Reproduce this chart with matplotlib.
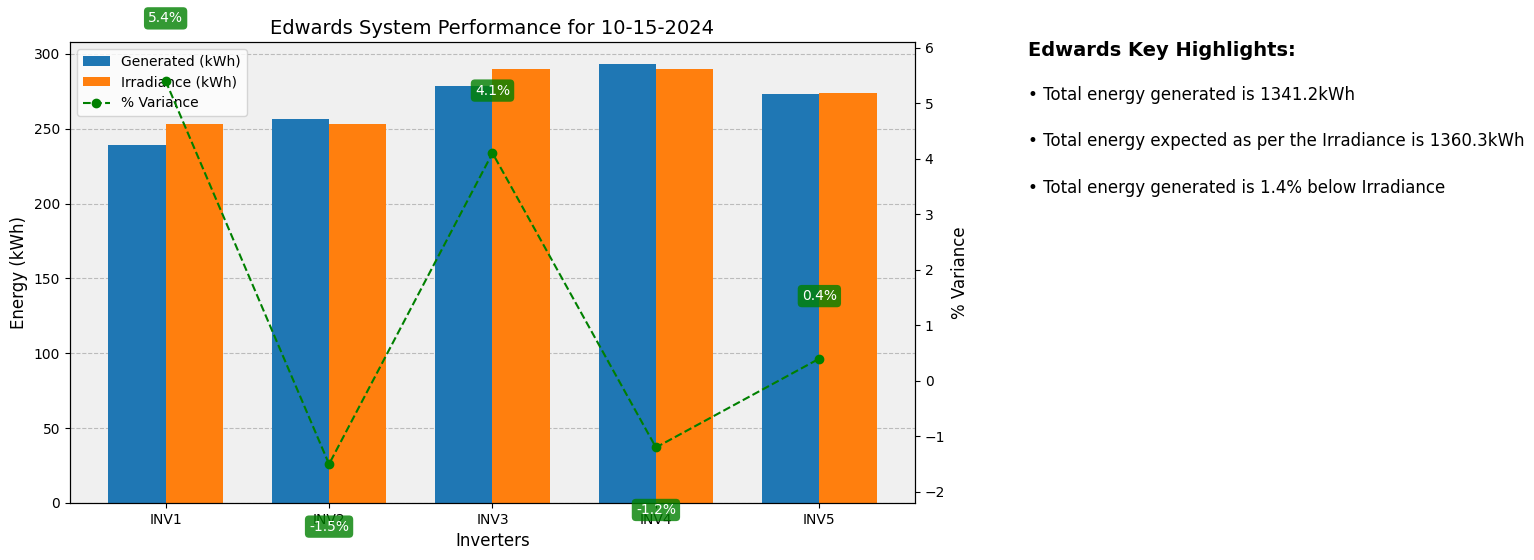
import numpy as np
import matplotlib.pyplot as plt

# data
inverters = ['INV1', 'INV2', 'INV3', 'INV4', 'INV5']
generated = [239.5, 256.8, 278.3, 293.4, 273.2]
irradiance = [253.3, 253.2, 290.2, 289.9, 273.7]
variance = [5.4, -1.5, 4.1, -1.2, 0.4]

highlights = [
    'Total energy generated is 1341.2kWh',
    'Total energy expected as per the Irradiance is 1360.3kWh',
    'Total energy generated is 1.4% below Irradiance',
]

fig = plt.figure(figsize=(15.34, 5.6), dpi=100)
ax = fig.add_axes([70 / 1534, 57 / 560, 845 / 1534, 461 / 560])
ax.set_facecolor('#f0f0f0')

x = np.arange(len(inverters))
w = 0.35
b1 = ax.bar(x - w / 2, generated, w, color='#1f77b4', label='Generated (kWh)')
b2 = ax.bar(x + w / 2, irradiance, w, color='#ff7f0e', label='Irradiance (kWh)')
ax.set_ylim(0, 308)
ax.set_xticks(x)
ax.set_xticklabels(inverters)
ax.set_xlabel('Inverters', fontsize=12)
ax.set_ylabel('Energy (kWh)', fontsize=12)
ax.set_title('Edwards System Performance for 10-15-2024', fontsize=14)
ax.grid(axis='y', linestyle='--', color='#bbbbbb')
ax.set_axisbelow(True)

ax2 = ax.twinx()
line, = ax2.plot(x, variance, 'o--', color='green', label='% Variance')
ax2.set_ylim(-2.2, 6.1)
ax2.set_ylabel('% Variance', fontsize=12)

for xi, v in zip(x, variance):
    off = 45 if v > 0 else -45
    ax2.annotate(f'{v}%', (xi, v), xytext=(0, off), textcoords='offset points',
                 ha='center', va='center', color='white', fontsize=10,
                 bbox=dict(boxstyle='round,pad=0.3', fc='green', ec='none', alpha=0.8),
                 annotation_clip=False)

ax.legend(handles=[b1, b2, line], loc='upper left')

fig.text(0.67, 0.91, 'Edwards Key Highlights:', fontsize=14, fontweight='bold', va='center')
for i, h in enumerate(highlights):
    fig.text(0.67, 1 - (95 + 46.5 * i) / 560, '\u2022 ' + h, fontsize=12, va='center')

fig.savefig('out.png', dpi=100)
